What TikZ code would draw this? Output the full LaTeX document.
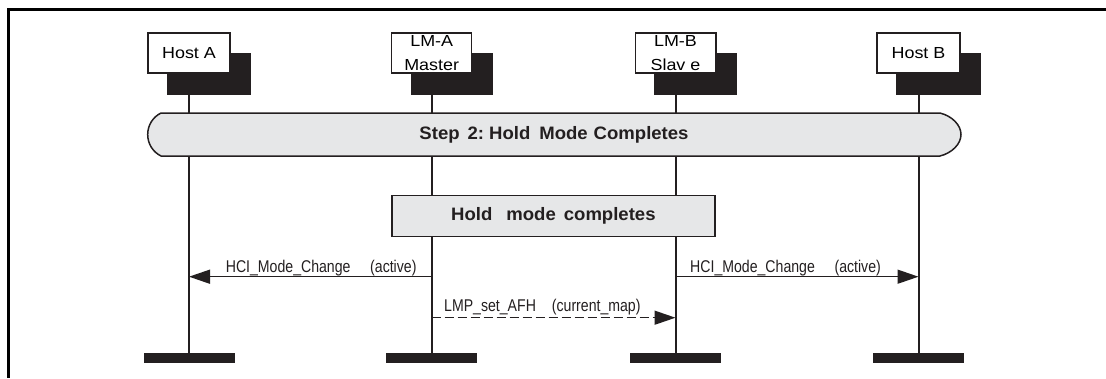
\documentclass[tikz,border=0pt]{standalone}
\usepackage{fontspec}
\setmainfont{Liberation Sans}
\newfontfamily\boxfont[FakeStretch=1.12]{Liberation Sans}
\newfontfamily\lblfont[FakeStretch=0.83]{Liberation Sans}
\newfontfamily\hdfont[FakeStretch=1.03]{Liberation Sans}
\usetikzlibrary{arrows.meta}
\definecolor{ink}{HTML}{231F20}
\definecolor{panel}{HTML}{E6E7E8}
\tikzset{
  entity/.style={draw=ink, fill=white, line width=1.5pt, inner sep=0pt, outer sep=0pt,
    minimum height=40pt, align=center, font=\boxfont\fontsize{16}{24}\selectfont},
  shadowbox/.style={fill=ink},
  endbar/.style={fill=ink, draw=none, inner sep=0pt, outer sep=0pt, minimum width=91pt, minimum height=10pt},
  life/.style={draw=ink, line width=2pt},
  msg/.style={draw=ink, line width=1.5pt, -{Triangle[length=21pt,width=14pt]}},
  dmsg/.style={msg, dash pattern=on 9pt off 4pt},
  lbl/.style={inner sep=0pt, font=\lblfont\fontsize{17}{20}\selectfont, text=ink},
  banner/.style={fill=panel, draw=ink, line width=1.5pt},
  hdtext/.style={inner sep=0pt, font=\hdfont\bfseries\fontsize{18}{20}\selectfont, text=ink},
  holdbox/.style={fill=panel, draw=ink, line width=1.5pt, inner sep=0pt, outer sep=0pt,
    minimum width=323.3pt, minimum height=41pt, font=\hdfont\bfseries\fontsize{18}{20}\selectfont, text=ink}
}
\begin{document}
\begin{tikzpicture}[x=1pt,y=-1pt]
\useasboundingbox (0,0) rectangle (1106,378);
% frame
\draw[line width=3pt, black, line join=miter] (1106,9.5) -- (8.3,9.5) -- (8.3,378);

% entity anchors
\path (189,53) node[entity, minimum width=82.3pt, draw=none, fill=none] (hA) {}
      (431.7,53) node[entity, minimum width=80pt, draw=none, fill=none] (hLA) {}
      (675.5,53) node[entity, minimum width=80.5pt, draw=none, fill=none] (hLB) {}
      (918.5,53) node[entity, minimum width=83pt, draw=none, fill=none] (hB) {};

% end bars
\node[endbar] (eA)  at (189,358) {};
\node[endbar] (eLA) at (431.7,358) {};
\node[endbar] (eLB) at (675.5,358) {};
\node[endbar] (eB)  at (918.5,358) {};

% lifelines
\draw[life] (hA) -- (eA);
\draw[life] (hLA) -- (eLA);
\draw[life] (hLB) -- (eLB);
\draw[life] (hB) -- (eB);

% shadows
\foreach \n in {hA,hLA,hLB,hB}{
  \fill[shadowbox] ([shift={(19pt,-20pt)}]\n.north west) rectangle ([shift={(21pt,-22pt)}]\n.south east);
}

% white boxes
\node[entity, minimum width=82.3pt] (tA)  at (hA)  {Host A};
\node[entity, minimum width=80pt]   (tLA) at (hLA) {LM-A\\Master};
\node[entity, minimum width=80.5pt] (tLB) at (hLB) {LM-B\\Slav e};
\node[entity, minimum width=83pt]   (tB)  at (hB)  {Host B};

% step banner
\draw[banner] (161,113) -- (940,113)
  .. controls (952,116) and (961,125) .. (961,134.5)
  .. controls (961,144) and (952,153) .. (940,156)
  -- (161,156)
  .. controls (153,152) and (147.7,144) .. (147.7,134.5)
  .. controls (147.7,125) and (153,117) .. (161,113) -- cycle;
\node[hdtext] (step) at (554,134.5) {Step\hspace{8pt}2:\hspace{5pt}Hold\hspace{9pt}Mode\hspace{6pt}Completes};

% hold box
\node[holdbox] (hold) at (553.4,216.2) {Hold\hspace{14pt}mode\hspace{8pt}completes};

% message points on lifelines
\coordinate (m1s) at (hLA |- 0,276.7);
\coordinate (m1e) at (hA |- 0,276.7);
\coordinate (m2s) at (hLB |- 0,276.7);
\coordinate (m2e) at (hB |- 0,276.7);
\coordinate (m3s) at (hLA |- 0,317.7);
\coordinate (m3e) at (hLB |- 0,317.7);

\draw[msg] (m1s) -- (m1e);
\node[lbl, anchor=base east] (l1) at ([shift={(-15pt,4pt)}]m1s) {HCI\_Mode\_Change\hspace{19.7pt}(active)};
\draw[msg] (m2s) -- (m2e);
\node[lbl, anchor=base west] (l2) at ([shift={(14.5pt,4pt)}]m2s) {HCI\_Mode\_Change\hspace{19.7pt}(active)};
\draw[dmsg] (m3s) -- (m3e);
\node[lbl, anchor=base west] (l3) at ([shift={(12.3pt,6.7pt)}]m3s) {LMP\_set\_AFH\hspace{16pt}(current\_map)};
\end{tikzpicture}
\end{document}
